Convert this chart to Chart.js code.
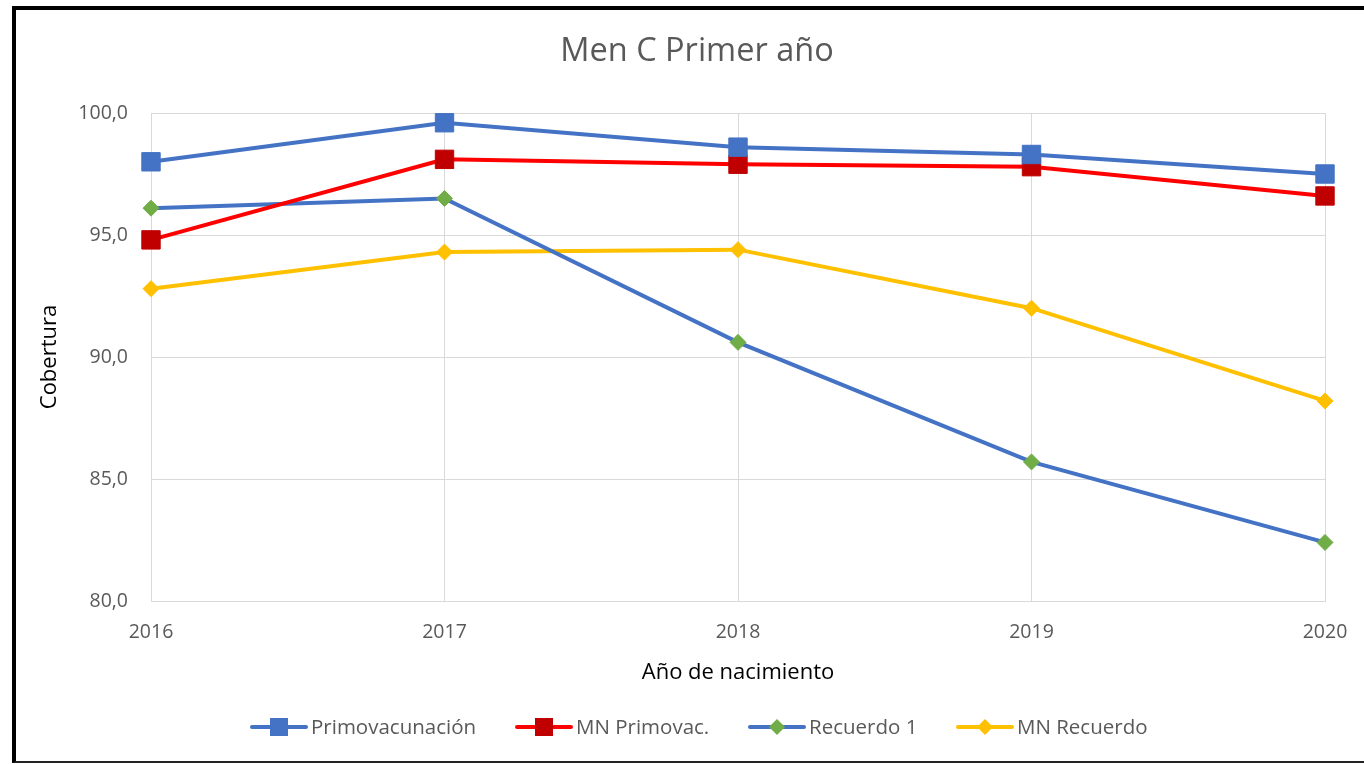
<!DOCTYPE html>
<html>
<head>
<meta charset="utf-8">
<script src="https://cdn.jsdelivr.net/npm/chart.js@4"></script>
<style>
  html, body { margin: 0; padding: 0; background: #fff; }
  #wrap { position: relative; width: 1364px; height: 764px; overflow: hidden; }
  #frame { position: absolute; left: 12px; top: 6px; width: 1360px; height: 751px; border: 4px solid #000; border-right: none; border-bottom: 2px solid #222; box-sizing: content-box; pointer-events: none; }
</style>
</head>
<body>
<div id="wrap">
  <canvas id="chart" width="1364" height="764"></canvas>
  <div id="frame"></div>
</div>
<script>
// --- Data ---
const years = ["2016", "2017", "2018", "2019", "2020"];
const primovacunacion = [98.0, 99.6, 98.6, 98.3, 97.5];
const mnPrimovac = [94.8, 98.1, 97.9, 97.8, 96.6];
const recuerdo1 = [96.1, 96.5, 90.6, 85.7, 82.4];
const mnRecuerdo = [92.8, 94.3, 94.4, 92.0, 88.2];
const yTicks = [80, 85, 90, 95, 100];

const FONT = "'Open Sans', 'Noto Sans', sans-serif";
const GREY = "#595959";

// --- Series styles ---
const series = [
  { label: "Primovacunación", data: primovacunacion, line: "#4472C4", fill: "#4472C4", style: "rect", r: 13 },
  { label: "MN Primovac.", data: mnPrimovac, line: "#FF0000", fill: "#C00000", style: "rect", r: 13 },
  { label: "Recuerdo 1", data: recuerdo1, line: "#4472C4", fill: "#70AD47", style: "rectRot", r: 8 },
  { label: "MN Recuerdo", data: mnRecuerdo, line: "#FFC000", fill: "#FFC000", style: "rectRot", r: 8 }
];

// --- Legend + title drawn on canvas ---
const legendX = [252, 517, 750, 958];
const extras = {
  id: "extras",
  afterDraw(chart) {
    const ctx = chart.ctx;
    ctx.save();
    ctx.fillStyle = GREY;
    ctx.font = "32.5px " + FONT;
    ctx.textAlign = "center";
    ctx.textBaseline = "middle";
    ctx.fillText("Men C Primer año", 697, 52);

    ctx.font = "20.5px " + FONT;
    ctx.textAlign = "left";
    series.forEach((s, i) => {
      const x = legendX[i], y = 727;
      ctx.strokeStyle = s.line;
      ctx.lineWidth = 4;
      ctx.lineCap = "round";
      ctx.beginPath(); ctx.moveTo(x, y); ctx.lineTo(x + 54, y); ctx.stroke();
      ctx.fillStyle = s.fill;
      if (s.style === "rect") ctx.fillRect(x + 27 - 9, y - 9, 18, 18);
      else {
        ctx.beginPath();
        ctx.moveTo(x + 27, y - 8); ctx.lineTo(x + 35, y); ctx.lineTo(x + 27, y + 8); ctx.lineTo(x + 19, y);
        ctx.closePath(); ctx.fill();
      }
      ctx.fillStyle = GREY;
      ctx.fillText(s.label, x + 59, y + 1);
    });
    ctx.restore();
  }
};

new Chart(document.getElementById("chart"), {
  type: "line",
  data: {
    labels: years,
    datasets: series.map(s => ({
      label: s.label,
      data: s.data,
      borderColor: s.line,
      backgroundColor: s.fill,
      pointBackgroundColor: s.fill,
      pointBorderColor: s.fill,
      pointStyle: s.style,
      pointRadius: s.r,
      pointBorderWidth: 1,
      borderWidth: 4,
      tension: 0
    }))
  },
  options: {
    responsive: false,
    animation: false,
    layout: { padding: { left: 16, top: 113, right: 39, bottom: 63 } },
    plugins: { legend: { display: false }, title: { display: false }, tooltip: { enabled: false } },
    scales: {
      x: {
        offset: false,
        grid: { color: "#D9D9D9", lineWidth: 1, drawTicks: false },
        border: { color: "#D9D9D9" },
        ticks: { color: GREY, font: { family: FONT, size: 19.5 }, padding: 20, maxRotation: 0 },
        title: { display: true, text: "Año de nacimiento", color: "#000", font: { family: FONT, size: 22 }, padding: { top: 0, bottom: 15 } },
        afterFit(scale) { scale.height = 100; scale.paddingRight = 0; scale.paddingLeft = 0; }
      },
      y: {
        min: 80, max: 100,
        afterBuildTicks(scale) { scale.ticks = yTicks.map(v => ({ value: v })); },
        grid: { color: "#D9D9D9", lineWidth: 1, drawTicks: false },
        border: { color: "#D9D9D9" },
        ticks: { color: GREY, font: { family: FONT, size: 19.5 }, padding: 23, callback: v => v.toFixed(1).replace(".", ",") },
        title: { display: true, text: "Cobertura", color: "#000", font: { family: FONT, size: 22 }, padding: { top: 21, bottom: 0 } },
        afterFit(scale) { scale.width = 135; }
      }
    }
  },
  plugins: [extras]
});
</script>
</body>
</html>
